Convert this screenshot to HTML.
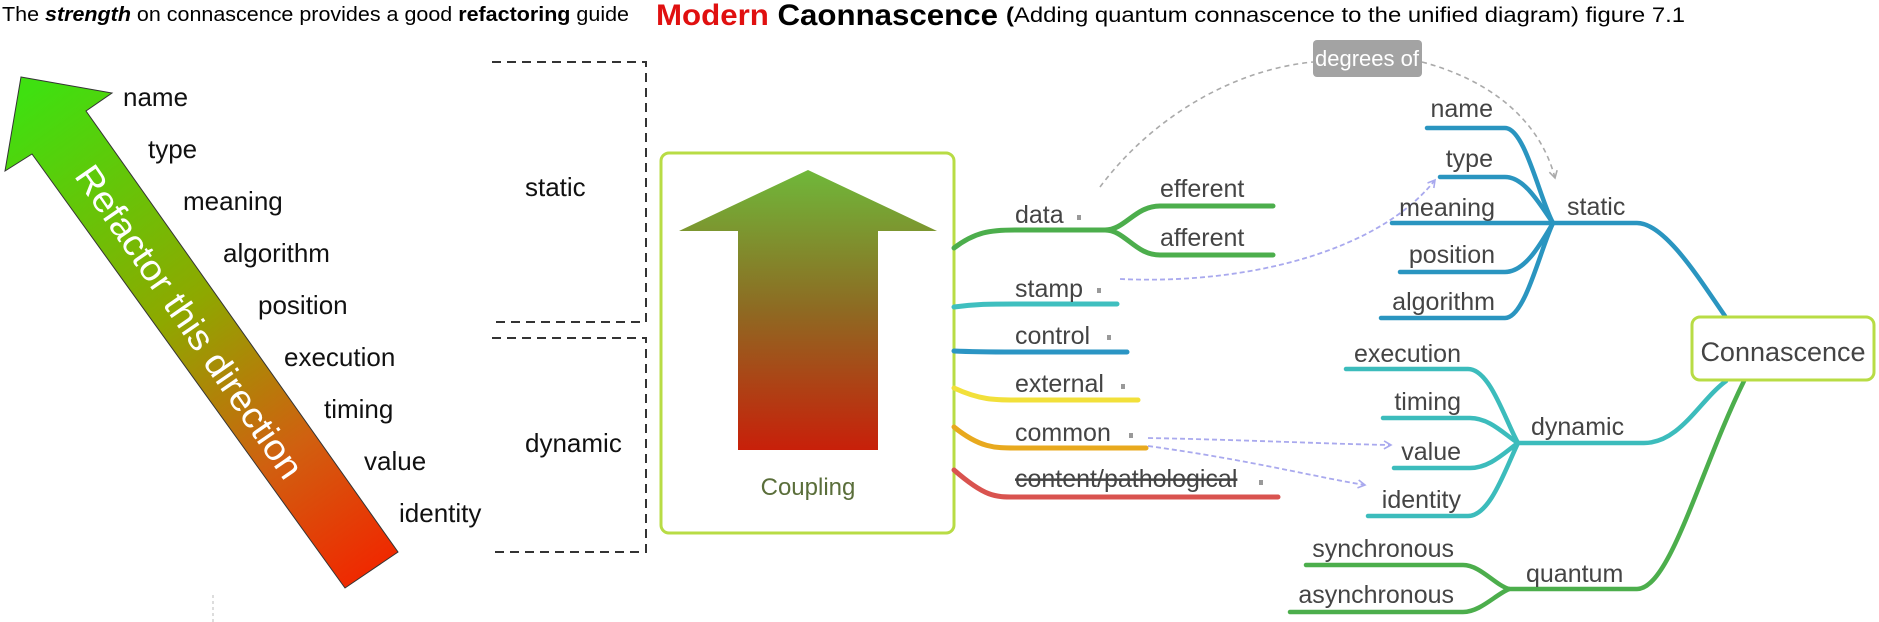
<!DOCTYPE html>
<html><head><meta charset="utf-8"><style>
html,body{margin:0;padding:0;background:#fff;}
svg{display:block;}
text{font-family:"Liberation Sans",sans-serif;}
</style></head><body>
<svg width="1879" height="622" viewBox="0 0 1879 622" xmlns="http://www.w3.org/2000/svg">
<defs>
<linearGradient id="lg" gradientUnits="userSpaceOnUse" x1="30" y1="90" x2="370" y2="575">
<stop offset="0" stop-color="#3fe010"/><stop offset="0.45" stop-color="#8ea800"/><stop offset="0.75" stop-color="#d06010"/><stop offset="1" stop-color="#f02800"/></linearGradient>
<linearGradient id="cg" x1="0" y1="0" x2="0" y2="1">
<stop offset="0" stop-color="#6fb83a"/><stop offset="0.5" stop-color="#8e6a22"/><stop offset="1" stop-color="#c8200a"/></linearGradient>
<marker id="pa" markerWidth="10" markerHeight="10" refX="8" refY="5" orient="auto" markerUnits="userSpaceOnUse"><path d="M1,1 L8,5 L1,9" fill="none" stroke="#a9a9ee" stroke-width="1.6"/></marker>
<marker id="ga" markerWidth="10" markerHeight="10" refX="8" refY="5" orient="auto" markerUnits="userSpaceOnUse"><path d="M1,1 L8,5 L1,9" fill="none" stroke="#aaa" stroke-width="1.6"/></marker>
</defs>

<!-- title -->
<text x="2" y="21" font-size="20" textLength="627" lengthAdjust="spacingAndGlyphs">The <tspan font-weight="bold" font-style="italic">strength</tspan> on connascence provides a good <tspan font-weight="bold">refactoring</tspan> guide</text>
<text x="656" y="25" font-size="30" font-weight="bold" textLength="342" lengthAdjust="spacingAndGlyphs"><tspan fill="#e01010">Modern</tspan> Caonnascence</text>
<text x="1006" y="22" font-size="21" textLength="679" lengthAdjust="spacingAndGlyphs"><tspan font-weight="bold">(</tspan>Adding quantum connascence to the unified diagram) figure 7.1</text>

<!-- left arrow -->
<polygon points="21,77 112,93 86,111 398,552 345,588 32,154 5,171" fill="url(#lg)" stroke="#333" stroke-width="1"/>
<text transform="translate(189,322) rotate(55.4)" x="0" y="12" font-size="36" fill="#fff" text-anchor="middle" textLength="372" lengthAdjust="spacingAndGlyphs">Refactor this direction</text>

<g font-size="26" fill="#111">
<text x="123" y="106">name</text>
<text x="148" y="158">type</text>
<text x="183" y="210">meaning</text>
<text x="223" y="262">algorithm</text>
<text x="258" y="314">position</text>
<text x="284" y="366">execution</text>
<text x="324" y="418">timing</text>
<text x="364" y="470">value</text>
<text x="399" y="522">identity</text>
</g>
<line x1="213" y1="595" x2="213" y2="622" stroke="#bbb" stroke-width="1" stroke-dasharray="3,3"/>

<!-- brackets -->
<g stroke="#333" stroke-width="2" stroke-dasharray="9,6" fill="none">
<path d="M492,62 L646,62 L646,322 L492,322"/>
<path d="M492,338 L646,338 L646,552 L492,552"/>
</g>
<text x="525" y="196" font-size="26" fill="#111">static</text>
<text x="525" y="452" font-size="26" fill="#111">dynamic</text>

<!-- coupling box -->
<rect x="661" y="153" width="293" height="380" rx="8" fill="#fff" stroke="#b8dc45" stroke-width="3"/>
<polygon points="808,170 937,231 878,231 878,450 738,450 738,231 679,231" fill="url(#cg)"/>
<text x="808" y="495" font-size="24" fill="#5a6e3a" text-anchor="middle">Coupling</text>

<!-- coupling branches -->
<g fill="none" stroke-width="5" stroke-linecap="round">
<path d="M954,248 C975,232 990,230 1015,230 L1105,230" stroke="#4cae4c"/>
<path d="M1105,230 C1125,230 1135,206 1160,206 L1273,206" stroke="#4cae4c"/>
<path d="M1105,230 C1125,230 1135,255 1160,255 L1273,255" stroke="#4cae4c"/>
<path d="M954,307 C975,304 990,304 1015,304 L1117,304" stroke="#3fbfbf"/>
<path d="M954,351 C975,352 990,352 1015,352 L1127,352" stroke="#2b95c4"/>
<path d="M954,388 C980,400 995,400 1015,400 L1138,400" stroke="#f2e03a"/>
<path d="M954,427 C980,448 995,448 1015,448 L1146,448" stroke="#e8a91e"/>
<path d="M954,470 C985,497 995,497 1015,497 L1278,497" stroke="#d9534f"/>
</g>
<g font-size="25" fill="#444">
<text x="1015" y="223">data</text>
<text x="1160" y="197">efferent</text>
<text x="1160" y="246">afferent</text>
<text x="1015" y="297">stamp</text>
<text x="1015" y="344">control</text>
<text x="1015" y="392">external</text>
<text x="1015" y="441">common</text>
<text x="1015" y="487" text-decoration="line-through">content/pathological</text>
</g>
<g fill="#999">
<rect x="1077" y="215" width="4" height="5"/>
<rect x="1097" y="288" width="4" height="5"/>
<rect x="1107" y="335" width="4" height="5"/>
<rect x="1121" y="384" width="4" height="5"/>
<rect x="1129" y="433" width="4" height="5"/>
<rect x="1259" y="480" width="4" height="5"/>
</g>

<!-- degrees of -->
<path d="M1100,187 C1150,120 1230,70 1313,62" fill="none" stroke="#aaa" stroke-width="1.6" stroke-dasharray="5,4"/>
<path d="M1422,62 C1490,80 1540,120 1555,178" fill="none" stroke="#aaa" stroke-width="1.6" stroke-dasharray="5,4" marker-end="url(#ga)"/>
<rect x="1313" y="40" width="109" height="37" rx="4" fill="#a3a3a3"/>
<text x="1367" y="66" font-size="22" fill="#fff" text-anchor="middle">degrees of</text>

<!-- purple dashed -->
<g fill="none" stroke="#a9a9ee" stroke-width="1.8" stroke-dasharray="5,3">
<path d="M1120,279 C1250,285 1380,250 1435,180" marker-end="url(#pa)"/>
<path d="M1148,438 C1250,440 1330,444 1391,445" marker-end="url(#pa)"/>
<path d="M1148,446 C1250,460 1320,478 1365,485" marker-end="url(#pa)"/>
</g>

<!-- connascence tree -->
<g fill="none" stroke-width="4.5" stroke-linecap="round">
<g stroke="#2a95c0">
<path d="M1427,128 L1505,128 C1525,128 1540,200 1553,223"/>
<path d="M1440,177 L1505,177 C1525,177 1540,205 1553,223"/>
<path d="M1392,223 L1553,223"/>
<path d="M1400,272 L1505,272 C1525,272 1540,245 1553,223"/>
<path d="M1381,318 L1505,318 C1525,318 1540,250 1553,223"/>
<path d="M1553,223 L1637,223 C1665,223 1700,280 1725,316"/>
</g>
<g stroke="#3cbcbc">
<path d="M1346,369 L1468,369 C1490,369 1505,420 1518,443"/>
<path d="M1383,418 L1470,418 C1490,418 1505,435 1518,443"/>
<path d="M1394,468 L1470,468 C1490,468 1505,452 1518,443"/>
<path d="M1368,516 L1468,516 C1490,516 1505,470 1518,443"/>
<path d="M1518,443 L1644,443 C1680,443 1700,400 1726,381"/>
</g>
<g stroke="#4cae4c">
<path d="M1306,565 L1463,565 C1480,565 1495,585 1509,589"/>
<path d="M1290,612 L1463,612 C1480,612 1495,595 1509,589"/>
<path d="M1509,589 L1637,589 C1670,589 1700,470 1744,381"/>
</g>
</g>
<g font-size="25" fill="#444">
<g text-anchor="end">
<text x="1493" y="117">name</text>
<text x="1493" y="167">type</text>
<text x="1495" y="216">meaning</text>
<text x="1495" y="263">position</text>
<text x="1495" y="310">algorithm</text>
<text x="1461" y="362">execution</text>
<text x="1461" y="410">timing</text>
<text x="1461" y="460">value</text>
<text x="1461" y="508">identity</text>
<text x="1454" y="557">synchronous</text>
<text x="1454" y="603">asynchronous</text>
</g>
<text x="1567" y="215">static</text>
<text x="1531" y="435">dynamic</text>
<text x="1526" y="582">quantum</text>
</g>
<rect x="1692" y="317" width="182" height="63" rx="8" fill="#fff" stroke="#b8dc45" stroke-width="3"/>
<text x="1783" y="361" font-size="27" fill="#444" text-anchor="middle">Connascence</text>
</svg>
</body></html>
